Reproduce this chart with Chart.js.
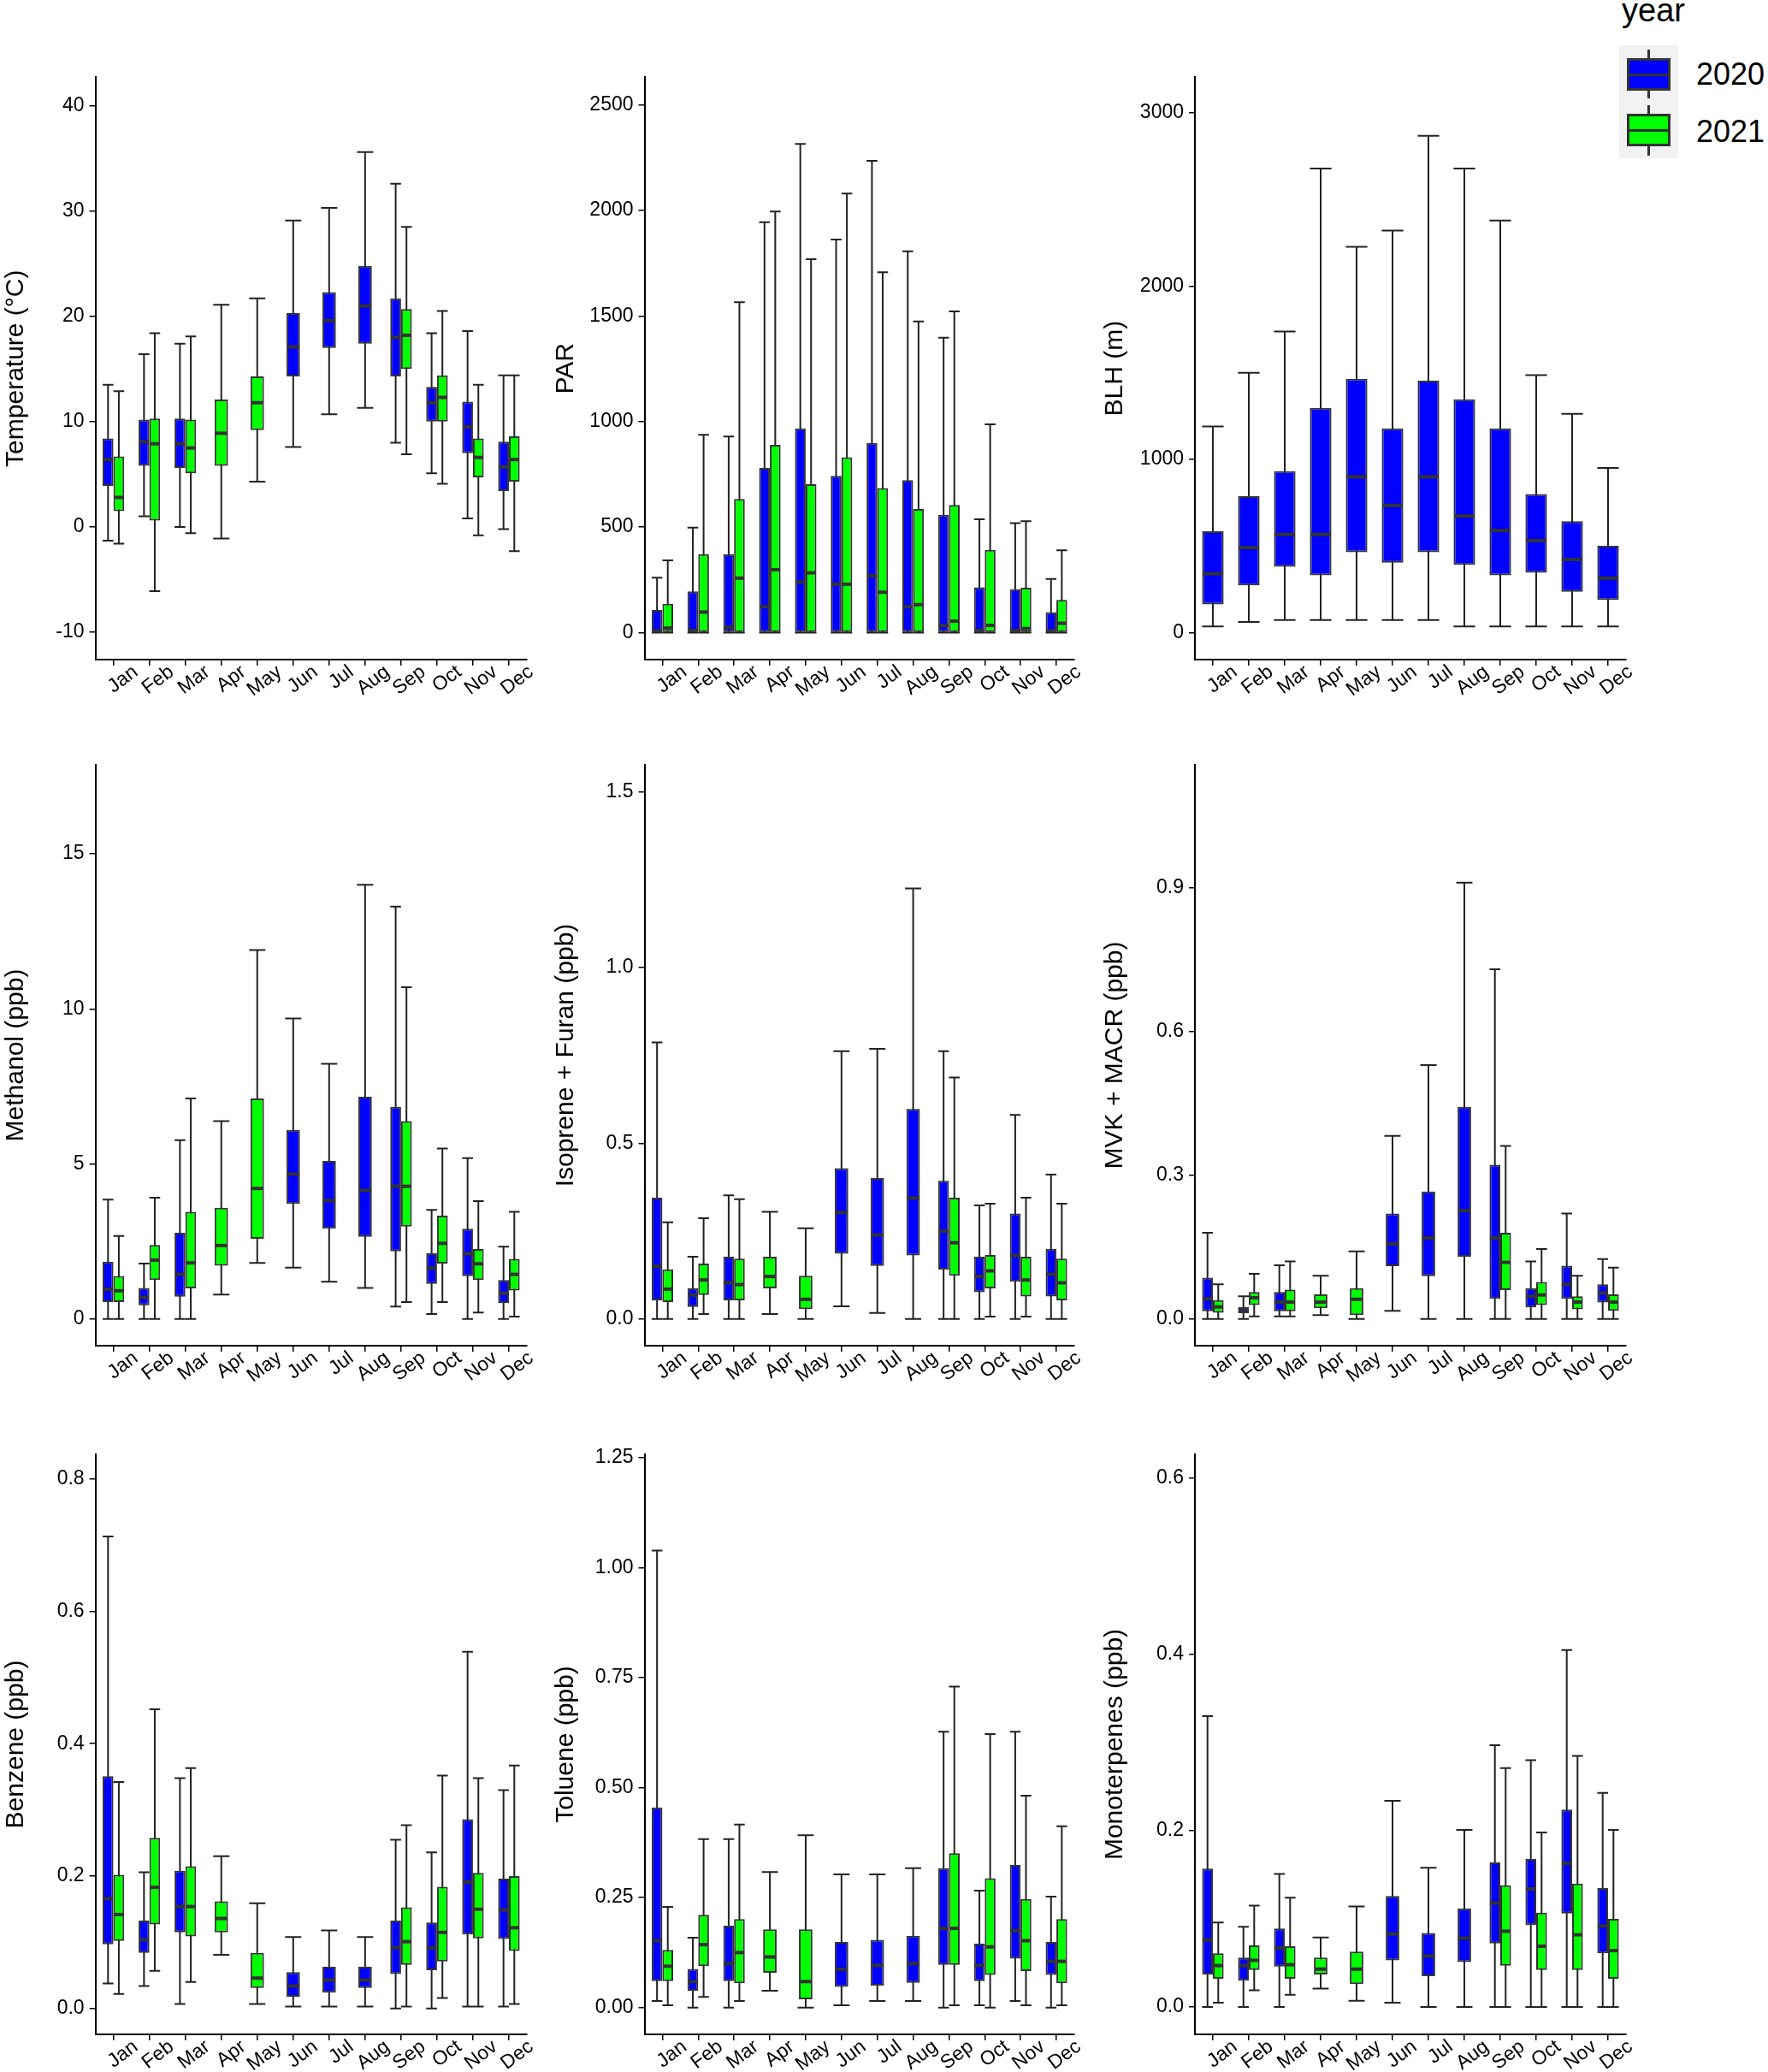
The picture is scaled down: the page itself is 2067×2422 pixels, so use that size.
<!DOCTYPE html>
<html>
<head>
<meta charset="utf-8">
<script src="https://cdn.jsdelivr.net/npm/chart.js@4.4.1/dist/chart.umd.min.js"></script>
<style>
html,body{margin:0;padding:0;background:#ffffff;}
body{width:2067px;height:2422px;position:relative;overflow:hidden;font-family:"Liberation Sans",Arial,sans-serif;}
canvas{position:absolute;}
.lg{position:absolute;box-sizing:border-box;}
.ltxt{position:absolute;color:#000;white-space:nowrap;}
</style>
</head>
<body>
<div class="ltxt" style="left:1896px;top:-7px;font-size:38px;line-height:38px;">year</div>
<div class="lg" style="left:1893px;top:53px;width:69px;height:132px;background:#F2F2F2;"></div>
<div class="lg" style="left:1926px;top:58px;width:3px;height:11px;background:#333;"></div>
<div class="lg" style="left:1926px;top:105px;width:3px;height:10px;background:#333;"></div>
<div class="lg" style="left:1902px;top:68px;width:51px;height:38px;background:#0000FF;border:3px solid #333;"></div>
<div class="lg" style="left:1902px;top:86px;width:51px;height:3px;background:#333;"></div>
<div class="lg" style="left:1926px;top:123px;width:3px;height:11px;background:#333;"></div>
<div class="lg" style="left:1926px;top:170px;width:3px;height:12px;background:#333;"></div>
<div class="lg" style="left:1902px;top:133px;width:51px;height:38px;background:#00FF00;border:3px solid #333;"></div>
<div class="lg" style="left:1902px;top:151px;width:51px;height:3px;background:#333;"></div>
<div class="ltxt" style="left:1983px;top:69px;font-size:36px;line-height:36px;">2020</div>
<div class="ltxt" style="left:1983px;top:136px;font-size:36px;line-height:36px;">2021</div>

<script>
// ---------------- DATA ----------------
const months = ['Jan','Feb','Mar','Apr','May','Jun','Jul','Aug','Sep','Oct','Nov','Dec'];
const years = ['2020','2021'];
// each month: [min, Q1, median, Q3, max]; null = no data

const temp2020 = [
 [-1.3,3.9,6.4,8.4,13.5],[1.0,5.8,8.1,10.2,16.4],[0.0,5.6,7.9,10.3,17.4],null,null,
 [7.6,14.3,17.1,20.3,29.1],[10.7,17.0,19.6,22.3,30.3],[11.3,17.4,21.0,24.8,35.6],
 [8.0,14.3,18.0,21.7,32.6],[5.1,10.0,11.8,13.3,18.4],[0.8,7.0,9.5,11.9,18.6],[-0.2,3.4,5.7,8.1,14.4]];
const temp2021 = [
 [-1.6,1.5,2.8,6.7,12.9],[-6.1,0.6,7.9,10.3,18.4],[-0.6,5.1,7.5,10.2,18.1],
 [-1.1,5.8,8.9,12.1,21.1],[4.3,9.2,11.8,14.3,21.7],null,null,null,
 [6.9,15.0,18.2,20.7,28.5],[4.1,10.0,12.3,14.4,20.5],[-0.8,4.7,6.6,8.4,13.5],[-2.3,4.3,6.4,8.6,14.4]];

const par2020 = [
 [0,0,8,107,260],[0,0,10,195,497],[0,0,25,371,929],[0,0,122,780,1944],[0,0,239,967,2315],
 [0,0,229,742,1862],[0,0,269,898,2234],[0,0,122,722,1806],[0,0,34,558,1397],
 [0,0,10,214,537],[0,0,10,205,518],[0,0,8,96,254]];
const par2021 = [
 [0,0,21,136,342],[0,0,97,371,937],[0,0,258,633,1565],[0,0,298,889,1994],[0,0,283,703,1768],
 [0,0,229,830,2080],[0,0,191,684,1707],[0,0,132,585,1474],[0,0,54,604,1521],
 [0,0,34,392,986],[0,0,19,212,527],[0,0,44,155,390]];

const blh2020 = [
 [35,163,340,585,1190],[61,273,491,787,1500],[72,380,566,932,1738],[72,331,566,1297,2679],
 [72,464,899,1465,2227],[72,403,734,1179,2320],[72,464,899,1454,2867],[35,391,673,1346,2679],
 [35,331,589,1179,2378],[35,345,531,799,1486],[35,235,422,643,1262],[35,189,314,501,950]];
const blh2021 = [null,null,null,null,null,null,null,null,null,null,null,null];

const methanol2020 = [
 [0,0.55,0.96,1.85,3.85],[0,0.44,0.70,1.00,1.79],[0,0.72,1.44,2.78,5.77],null,null,
 [1.66,3.71,4.67,6.10,9.69],[1.20,2.91,3.82,5.10,8.23],[1.00,2.65,4.15,7.17,14.0],
 [0.40,2.18,4.28,6.84,13.3],[0.16,1.13,1.65,2.12,3.52],[0,1.38,2.11,2.91,5.19],[0,0.52,0.83,1.26,2.33]];
const methanol2021 = [
 [0,0.55,0.91,1.39,2.68],[0,1.26,1.90,2.39,3.91],[0,0.99,1.81,3.46,7.11],
 [0.79,1.72,2.37,3.59,6.38],[1.81,2.59,4.21,7.11,11.9],null,null,null,
 [0.55,2.98,4.28,6.38,10.7],[0.55,1.79,2.44,3.33,5.50],[0.21,1.26,1.78,2.26,3.80],[0.08,0.92,1.44,1.94,3.46]];

const isoprene2020 = [
 [0,0.053,0.150,0.345,0.787],[0,0.034,0.068,0.088,0.177],[0,0.053,0.103,0.177,0.352],null,null,
 [0.036,0.186,0.303,0.429,0.762],[0.017,0.151,0.239,0.401,0.769],[0,0.181,0.344,0.598,1.225],
 [0,0.140,0.250,0.393,0.762],[0,0.076,0.121,0.177,0.323],[0,0.106,0.181,0.300,0.581],[0,0.064,0.127,0.200,0.411]];
const isoprene2021 = [
 [0,0.048,0.085,0.141,0.275],[0.014,0.068,0.111,0.158,0.287],[0,0.053,0.098,0.172,0.341],
 [0.014,0.087,0.121,0.177,0.305],[0,0.028,0.056,0.123,0.258],null,null,null,
 [0,0.123,0.217,0.345,0.687],[0.007,0.087,0.137,0.182,0.328],[0.007,0.064,0.111,0.177,0.345],[0,0.053,0.103,0.172,0.328]];

const mvk2020 = [
 [0,0.016,0.042,0.086,0.180],[0,0.012,0.020,0.025,0.047],[0.005,0.016,0.035,0.056,0.112],null,null,
 [0.017,0.110,0.157,0.220,0.382],[0,0.089,0.169,0.266,0.530],[0,0.130,0.226,0.443,0.911],
 [0,0.042,0.169,0.322,0.730],[0,0.024,0.047,0.064,0.120],[0,0.042,0.072,0.111,0.220],[0,0.034,0.054,0.072,0.125]];
const mvk2021 = [
 [0,0.013,0.025,0.039,0.072],[0.005,0.029,0.044,0.056,0.094],[0.005,0.016,0.035,0.061,0.120],
 [0.008,0.022,0.035,0.051,0.090],[0,0.008,0.041,0.064,0.141],null,null,null,
 [0,0.060,0.118,0.180,0.361],[0,0.029,0.050,0.077,0.146],[0,0.020,0.035,0.047,0.090],[0,0.017,0.035,0.051,0.107]];

const benzene2020 = [
 [0.038,0.097,0.166,0.351,0.713],[0.034,0.084,0.104,0.133,0.206],[0.007,0.115,0.154,0.208,0.348],null,null,
 [0.003,0.018,0.034,0.055,0.108],[0.003,0.024,0.043,0.063,0.118],[0.003,0.031,0.043,0.063,0.108],
 [0,0.052,0.092,0.133,0.255],[0,0.058,0.092,0.130,0.236],[0.003,0.112,0.191,0.286,0.539],[0.003,0.105,0.149,0.196,0.330]];
const benzene2021 = [
 [0.022,0.102,0.142,0.202,0.342],[0.057,0.127,0.183,0.258,0.452],[0.040,0.109,0.154,0.215,0.363],
 [0.081,0.115,0.136,0.162,0.230],[0.007,0.031,0.046,0.084,0.159],null,null,null,
 [0.003,0.066,0.101,0.153,0.277],[0.016,0.071,0.115,0.184,0.352],[0.003,0.106,0.150,0.205,0.348],[0.007,0.087,0.122,0.200,0.367]];

const toluene2020 = [
 [0.015,0.060,0.152,0.455,1.039],[0,0.038,0.059,0.088,0.159],[0,0.060,0.100,0.186,0.383],null,null,
 [0.005,0.047,0.087,0.149,0.303],[0.015,0.050,0.096,0.154,0.303],[0.015,0.056,0.100,0.163,0.317],
 [0,0.097,0.180,0.317,0.627],[0.005,0.060,0.096,0.145,0.266],[0.015,0.111,0.175,0.324,0.627],[0,0.074,0.105,0.149,0.252]];
const toluene2021 = [
 [0.005,0.060,0.094,0.131,0.229],[0.024,0.094,0.143,0.211,0.383],[0.015,0.055,0.125,0.201,0.416],
 [0.038,0.079,0.115,0.178,0.308],[0,0.019,0.059,0.178,0.392],null,null,null,
 [0.005,0.097,0.180,0.351,0.730],[0,0.074,0.138,0.294,0.622],[0.005,0.083,0.152,0.247,0.482],[0.005,0.055,0.105,0.201,0.412]];

const mono2020 = [
 [0,0.037,0.076,0.157,0.330],[0,0.030,0.047,0.056,0.091],[0,0.046,0.067,0.089,0.151],null,null,
 [0.005,0.053,0.083,0.126,0.234],[0,0.035,0.058,0.084,0.158],[0,0.051,0.078,0.112,0.201],
 [0,0.072,0.118,0.164,0.297],[0,0.093,0.134,0.168,0.280],[0,0.106,0.163,0.224,0.405],[0,0.061,0.092,0.135,0.243]];
const mono2021 = [
 [0.005,0.032,0.047,0.061,0.096],[0.019,0.042,0.053,0.070,0.115],[0.014,0.032,0.048,0.069,0.124],
 [0.021,0.037,0.043,0.056,0.079],[0.007,0.026,0.043,0.063,0.114],null,null,null,
 [0,0.047,0.086,0.138,0.271],[0,0.042,0.069,0.107,0.198],[0,0.042,0.082,0.140,0.285],[0,0.032,0.064,0.100,0.201]];

// tick labels
const tempTicks = ['-10','0','10','20','30','40'];
const parTicks = ['0','500','1000','1500','2000','2500'];
const blhTicks = ['0','1000','2000','3000'];
const methanolTicks = ['0','5','10','15'];
const isopreneTicks = ['0.0','0.5','1.0','1.5'];
const mvkTicks = ['0.0','0.3','0.6','0.9'];
const benzeneTicks = ['0.0','0.2','0.4','0.6','0.8'];
const tolueneTicks = ['0.00','0.25','0.50','0.75','1.00','1.25'];
const monoTicks = ['0.0','0.2','0.4','0.6'];

// ---------------- PANELS ----------------
const panels = [
  {title:'Temperature (°C)', a:temp2020, b:temp2021, ticks:tempTicks, min:-12.6, max:42.7, col:0, row:0},
  {title:'PAR', a:par2020, b:par2021, ticks:parTicks, min:-128, max:2630, col:1, row:0},
  {title:'BLH (m)', a:blh2020, b:blh2021, ticks:blhTicks, min:-156, max:3205, col:2, row:0},
  {title:'Methanol (ppb)', a:methanol2020, b:methanol2021, ticks:methanolTicks, min:-0.86, max:17.87, col:0, row:1},
  {title:'Isoprene + Furan (ppb)', a:isoprene2020, b:isoprene2021, ticks:isopreneTicks, min:-0.076, max:1.577, col:1, row:1},
  {title:'MVK + MACR (ppb)', a:mvk2020, b:mvk2021, ticks:mvkTicks, min:-0.056, max:1.157, col:2, row:1},
  {title:'Benzene (ppb)', a:benzene2020, b:benzene2021, ticks:benzeneTicks, min:-0.039, max:0.837, col:0, row:2},
  {title:'Toluene (ppb)', a:toluene2020, b:toluene2021, ticks:tolueneTicks, min:-0.061, max:1.258, col:1, row:2},
  {title:'Monoterpenes (ppb)', a:mono2020, b:mono2021, ticks:monoTicks, min:-0.031, max:0.627, col:2, row:2}
];

const cols = [
  {L:0, plotL:111.6, plotR:616, titlePad:1},
  {L:640, plotL:753.5, plotR:1256, titlePad:4},
  {L:1280, plotL:1397, plotR:1901, titlePad:6}
];
const rows = [
  {T:0, H:860, top:90.4, bottom:771},
  {T:860, H:800, top:894, bottom:1573},
  {T:1660, H:762, top:1700, bottom:2378}
];

const FONT = '"Liberation Sans", Arial, sans-serif';
const EDGE = '#333333';
const FILLS = ['#0000FF', '#00FF00'];

function drawBoxParts(chart, part) {
  const ctx = chart.ctx;
  const y = chart.scales.y;
  const sets = chart.data.datasets;
  const paired = sets.every(ds => ds.stats.some(s => s));
  sets.forEach((ds, di) => {
    const meta = chart.getDatasetMeta(di);
    ds.stats.forEach((s, i) => {
      if (!s) return;
      const el = meta.data[i];
      if (!el) return;
      const p = el.getProps(['x', 'width'], true);
      const x = p.x, w = p.width;
      const other = sets[1 - di].stats[i];
      ctx.save();
      ctx.strokeStyle = EDGE;
      ctx.lineCap = 'butt';
      if (part === 'whisker') {
        const cw = (paired && !other) ? w * 1.2 : w;
        ctx.strokeStyle = '#222';
        ctx.lineWidth = 2;
        ctx.beginPath();
        ctx.moveTo(x, y.getPixelForValue(s[0]));
        ctx.lineTo(x, y.getPixelForValue(s[4]));
        [s[0], s[4]].forEach(v => {
          const py = y.getPixelForValue(v);
          ctx.moveTo(x - cw / 2, py);
          ctx.lineTo(x + cw / 2, py);
        });
        ctx.stroke();
      } else {
        ctx.lineWidth = 4;
        const py = y.getPixelForValue(s[2]);
        ctx.beginPath();
        ctx.moveTo(x - w / 2 + 1, py);
        ctx.lineTo(x + w / 2 - 1, py);
        ctx.stroke();
      }
      ctx.restore();
    });
  });
}

const boxPlugin = {
  id: 'boxParts',
  beforeDatasetsDraw(chart) { drawBoxParts(chart, 'whisker'); },
  afterDatasetsDraw(chart) { drawBoxParts(chart, 'median'); }
};

panels.forEach(pn => {
  const c = cols[pn.col], r = rows[pn.row];
  const padRight = 50;
  const W = Math.round(c.plotR - c.L + padRight);
  const H = r.H;
  const canvas = document.createElement('canvas');
  canvas.width = W; canvas.height = H;
  canvas.style.left = c.L + 'px';
  canvas.style.top = r.T + 'px';
  canvas.style.width = W + 'px';
  canvas.style.height = H + 'px';
  document.body.appendChild(canvas);

  const yw = c.plotL - c.L;
  const xh = r.T + H - r.bottom;
  const padTop = r.top - r.T;
  const paired = pn.a.some(s => s) && pn.b.some(s => s);
  const stats = [pn.a, pn.b];

  const datasets = years.map((yr, k) => ({
    label: yr,
    stats: stats[k],
    data: stats[k].map(s => s ? [s[1], s[3]] : null),
    backgroundColor: FILLS[k],
    borderColor: EDGE,
    borderWidth: 2,
    borderSkipped: false,
    skipNull: true,
    categoryPercentage: 0.6,
    barPercentage: 1.0,
    maxBarThickness: paired ? 15.8 : undefined
  }));

  const axisGrid = {display: true, drawOnChartArea: false, drawTicks: true, tickLength: 7, color: '#000', lineWidth: 1.5, offset: false};
  const axisBorder = {display: true, color: '#000', width: 2};

  new Chart(canvas, {
    type: 'bar',
    data: {labels: months, datasets},
    plugins: [boxPlugin],
    options: {
      responsive: false,
      animation: false,
      devicePixelRatio: 1,
      layout: {padding: {top: padTop, right: padRight, left: 0, bottom: 0}},
      plugins: {legend: {display: false}, tooltip: {enabled: false}},
      scales: {
        x: {
          type: 'category',
          offset: true,
          grid: axisGrid,
          border: axisBorder,
          ticks: {color: '#000', font: {family: FONT, size: 23}, minRotation: 37, maxRotation: 37, padding: -6, labelOffset: 26, autoSkip: false},
          afterFit: s => { s.height = xh; }
        },
        y: {
          type: 'linear',
          min: pn.min, max: pn.max,
          bounds: 'data',
          grid: axisGrid,
          border: axisBorder,
          ticks: {color: '#000', font: {family: FONT, size: 23}, padding: 6,
                  callback: (v, i) => pn.ticks[i]},
          afterBuildTicks: s => { s.ticks = pn.ticks.map(t => ({value: Number(t)})); },
          title: {display: true, text: pn.title, color: '#000', font: {family: FONT, size: 30}, padding: {top: c.titlePad, bottom: 0}},
          afterFit: s => { s.width = yw; }
        }
      }
    }
  });
});
</script>
</body>
</html>
